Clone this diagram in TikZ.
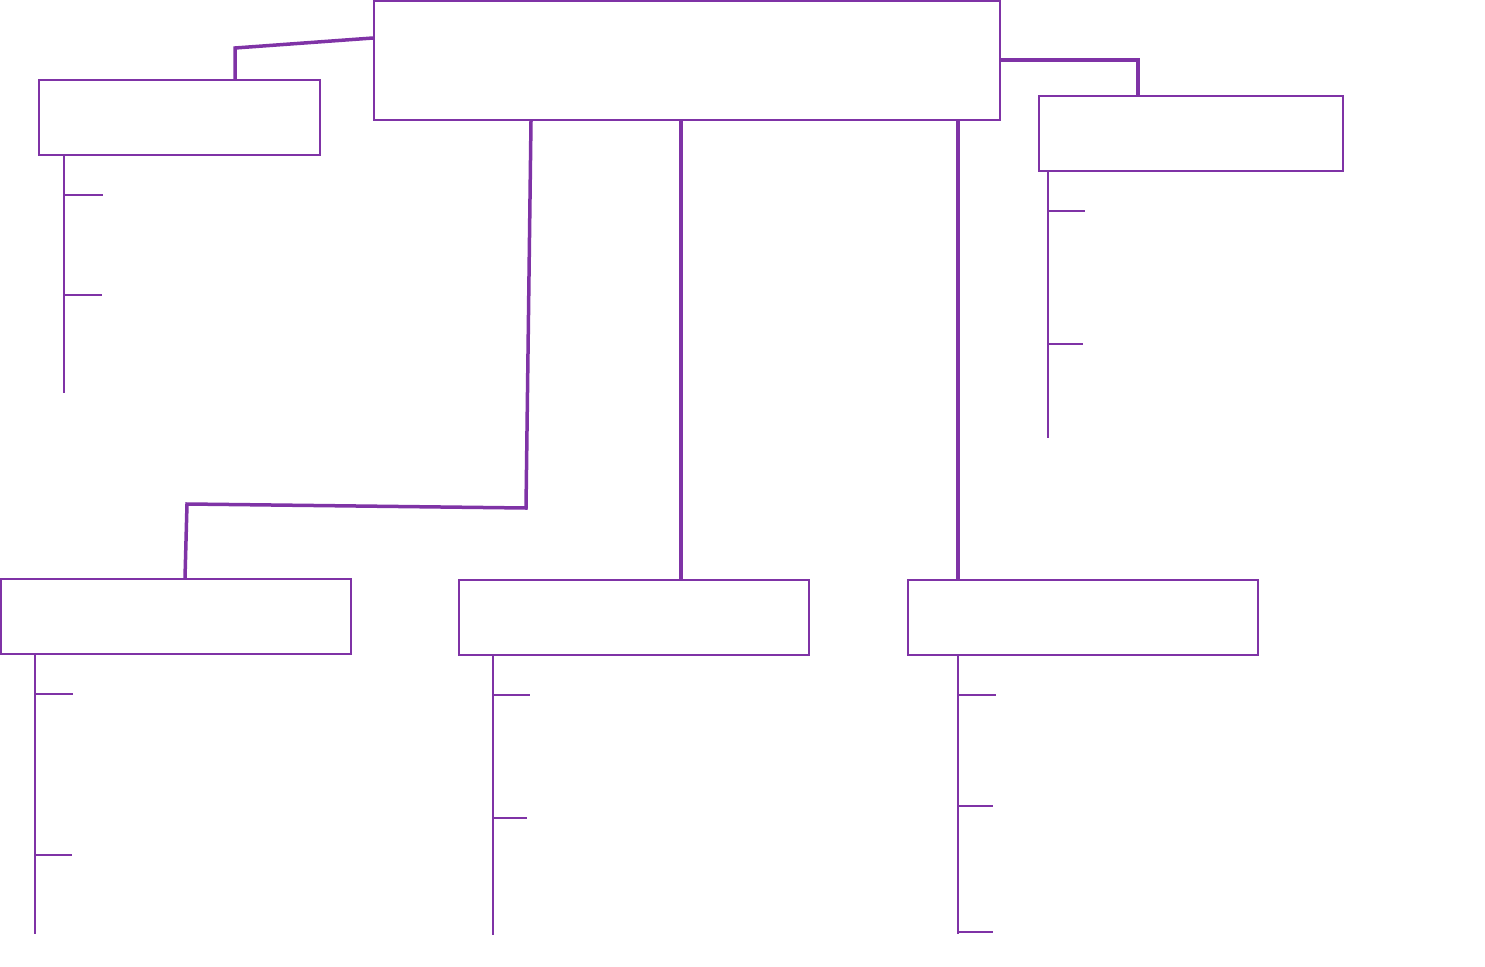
\documentclass[tikz,border=0pt]{standalone}
\definecolor{purp}{RGB}{127,51,166}
\begin{document}
\begin{tikzpicture}[x=1pt,y=-1pt,
  box/.style={draw=purp,line width=2pt,rectangle,inner sep=0pt,minimum height=75pt},
  link/.style={draw=purp,line width=3.5pt},
  twig/.style={draw=purp,line width=1.4pt}]
\useasboundingbox (0,0) rectangle (1485,966);
% boxes
\node[box,minimum width=626pt,minimum height=119pt] (top) at (687,60.5) {};
\node[box,minimum width=281pt] (lt) at (179.5,117.5) {};
\node[box,minimum width=304pt] (rt) at (1191,133.5) {};
\node[box,minimum width=350pt] (bl) at (176,616.5) {};
\node[box,minimum width=350pt] (bm) at (634,617.5) {};
\node[box,minimum width=350pt] (br) at (1083,617.5) {};
% junction coordinates
\coordinate (j1) at (235,48);
\coordinate (j2) at (1138,60);
\coordinate (j3) at (526,508);
\coordinate (j4) at (187,504);
% thick connectors
\draw[link] (top.west |- 0,38) -- (j1) -- (lt.north -| j1);
\draw[link] (top.east |- j2) -- (j2) -- (rt.north -| j2);
\draw[link] (top.south -| 531,0) -- (j3) -- (j4) -- (bl.north -| 185,0);
\draw[link] (top.south -| 681,0) -- (bm.north -| 681,0);
\draw[link] (top.south -| 958,0) -- (br.north -| 958,0);
% thin trees: left top
\coordinate (lte) at (64,393);
\draw[twig] (lt.south -| lte) -- (lte);
\coordinate (lt1) at (103,195);
\coordinate (lt2) at (102,295);
\draw[twig] (lt1 -| lte) -- (lt1);
\draw[twig] (lt2 -| lte) -- (lt2);
% right top
\coordinate (rte) at (1048,438);
\draw[twig] (rt.south -| rte) -- (rte);
\coordinate (rt1) at (1085,211);
\coordinate (rt2) at (1083,344);
\draw[twig] (rt1 -| rte) -- (rt1);
\draw[twig] (rt2 -| rte) -- (rt2);
% bottom left
\coordinate (ble) at (35,934);
\draw[twig] (bl.south -| ble) -- (ble);
\coordinate (bl1) at (73,694);
\coordinate (bl2) at (72,855);
\draw[twig] (bl1 -| ble) -- (bl1);
\draw[twig] (bl2 -| ble) -- (bl2);
% bottom middle
\coordinate (bme) at (493,935);
\draw[twig] (bm.south -| bme) -- (bme);
\coordinate (bm1) at (530,695);
\coordinate (bm2) at (527,818);
\draw[twig] (bm1 -| bme) -- (bm1);
\draw[twig] (bm2 -| bme) -- (bm2);
% bottom right
\coordinate (bre) at (958,934);
\draw[twig] (br.south -| bre) -- (bre);
\coordinate (br1) at (996,695);
\coordinate (br2) at (993,806);
\coordinate (br3) at (993,932);
\draw[twig] (br1 -| bre) -- (br1);
\draw[twig] (br2 -| bre) -- (br2);
\draw[twig] (br3 -| bre) -- (br3);
\end{tikzpicture}
\end{document}
